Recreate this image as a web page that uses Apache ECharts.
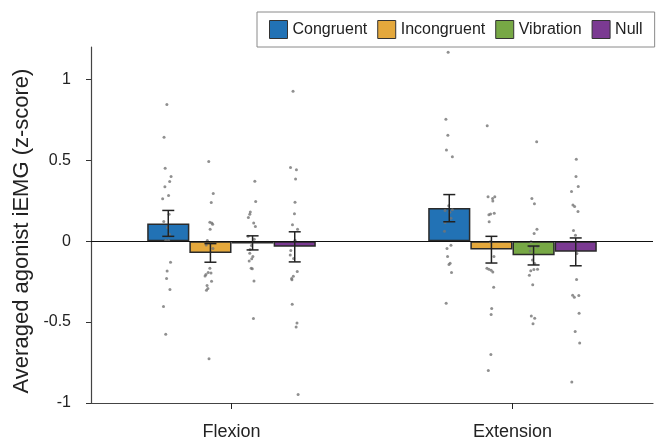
<!DOCTYPE html>
<html>
<head>
<meta charset="utf-8">
<script src="https://cdn.jsdelivr.net/npm/echarts@6.0.0/dist/echarts.min.js"></script>
<style>
  html, body { margin: 0; padding: 0; background: #fff; }
  #main { width: 656px; height: 441px; }
</style>
</head>
<body>
<div id="main"></div>
<script>
// categories and conditions
var categories = ['Flexion', 'Extension'];
var conditions = ['Congruent', 'Incongruent', 'Vibration', 'Null'];
var colors = ['#2272b5', '#e4a83c', '#77a845', '#7b3a92'];

// bar heights (mean), one value per category
var congruentMean = [0.11, 0.205];
var incongruentMean = [-0.073, -0.052];
var vibrationMean = [-0.015, -0.087];
var nullMean = [-0.035, -0.065];

// error bars [low, high] per category
var congruentErr = [[0.03, 0.19], [0.12, 0.288]];
var incongruentErr = [[-0.13, -0.015], [-0.135, 0.03]];
var vibrationErr = [[-0.054, 0.033], [-0.147, -0.03]];
var nullErr = [[-0.128, 0.058], [-0.152, 0.02]];

// single subjects: [jitter, value], jitter in category units
var congruentPts = [
    [[-0.005, 0.845], [-0.015, 0.643], [-0.011, 0.451], [0.010, 0.40], [0.005, 0.369], [-0.012, 0.336], [0.001, 0.283],
     [-0.020, 0.262], [0.003, 0.167], [-0.016, 0.122], [-0.003, 0.085], [0.004, 0.043], [-0.009, 0.004], [0.001, 0.004],
     [0.008, -0.13], [-0.004, -0.184], [-0.006, -0.231], [0.006, -0.299], [-0.017, -0.404], [-0.009, -0.575]],
    [[-0.004, 1.167], [-0.012, 0.753], [-0.005, 0.654], [-0.010, 0.563], [0.011, 0.522], [-0.002, 0.219], [-0.015, 0.19],
     [0.011, 0.194], [0.002, 0.179], [0.006, 0.142], [-0.015, 0.116], [-0.017, 0.062], [0.006, -0.025], [-0.008, -0.045],
     [-0.006, -0.095], [0.003, -0.136], [-0.001, -0.144], [0.008, -0.194], [-0.011, -0.384]]
];
var incongruentPts = [
    [[-0.006, 0.493], [0.010, 0.295], [0.003, 0.239], [-0.002, 0.117], [0.005, 0.113], [0.008, 0.105], [-0.001, 0.074],
     [-0.011, 0.004], [-0.015, -0.023], [0.009, -0.045], [-0.002, -0.167], [-0.008, -0.194], [0.002, -0.196], [-0.016, -0.206],
     [-0.019, -0.215], [0.004, -0.247], [-0.012, -0.274], [-0.009, -0.293], [-0.014, -0.303], [-0.005, -0.726]],
    [[-0.015, 0.714], [-0.012, 0.274], [0.004, 0.264], [0.012, 0.274], [0.005, 0.249], [-0.009, 0.164], [-0.003, 0.168],
     [0.010, 0.172], [-0.008, 0.12], [-0.004, -0.004], [0.009, -0.094], [-0.016, -0.168], [-0.009, -0.173], [-0.001, -0.179],
     [0.005, -0.19], [0.008, -0.284], [0.001, -0.416], [-0.001, -0.453], [-0.002, -0.70], [-0.011, -0.799]]
];
var vibrationPts = [
    [[0.008, 0.371], [0.011, 0.245], [-0.008, 0.181], [-0.010, 0.167], [-0.015, 0.146], [0.004, 0.113], [0.010, 0.091],
     [-0.016, 0.031], [0.006, 0.012], [-0.004, -0.027], [-0.009, -0.051], [-0.010, -0.074], [0.001, -0.095], [-0.003, -0.109],
     [-0.012, -0.122], [-0.005, -0.167], [-0.001, -0.171], [0.005, -0.246], [0.003, -0.478]],
    [[0.011, 0.614], [-0.006, 0.264], [0.003, 0.231], [0.012, 0.074], [0.002, 0.048], [-0.009, -0.004], [-0.012, -0.035],
     [0.014, -0.035], [-0.012, -0.06], [-0.004, -0.117], [0.004, -0.138], [0.014, -0.173], [0.001, -0.175], [-0.010, -0.183],
     [-0.015, -0.21], [-0.003, -0.27], [-0.008, -0.462], [0.004, -0.476], [-0.002, -0.511]]
];
var nullPts = [
    [[-0.006, 0.926], [-0.015, 0.456], [0.006, 0.441], [0.003, 0.385], [0.001, 0.241], [-0.001, 0.169], [-0.008, 0.101],
     [0.010, 0.074], [0.001, 0.006], [-0.014, -0.058], [-0.016, -0.085], [-0.004, -0.107], [0.009, -0.187], [-0.005, -0.216],
     [-0.011, -0.231], [-0.010, -0.239], [-0.009, -0.39], [0.008, -0.505], [0.005, -0.53], [0.012, -0.948]],
    [[0.002, 0.507], [0.001, 0.40], [0.009, 0.338], [-0.015, 0.307], [-0.010, 0.223], [-0.004, 0.215], [0.008, 0.184],
     [-0.008, 0.066], [-0.001, 0.037], [0.004, -0.076], [0.003, -0.237], [-0.011, -0.334], [-0.005, -0.346], [0.011, -0.336],
     [0.012, -0.445], [-0.002, -0.558], [0.014, -0.629], [-0.014, -0.87]]
];

var yTicks = [-1, -0.5, 0, 0.5, 1];

var means = [congruentMean, incongruentMean, vibrationMean, nullMean];
var errs = [congruentErr, incongruentErr, vibrationErr, nullErr];
var pts = [congruentPts, incongruentPts, vibrationPts, nullPts];

// bar centre offsets inside a category (barCategoryGap 40%, 4 bars)
var barOffset = [-0.225, -0.075, 0.075, 0.225];

var fontFam = '"Liberation Sans", Arial, Helvetica, sans-serif';

var chartDom = document.getElementById('main');
var myChart = echarts.init(chartDom, null, { renderer: 'canvas' });

var series = [];

conditions.forEach(function (name, s) {
    series.push({
        name: name,
        type: 'bar',
        data: means[s],
        barGap: 0,
        barCategoryGap: '40%',
        itemStyle: {
            color: colors[s],
            borderColor: '#2a2a2a',
            borderWidth: 1.5
        },
        z: 2,
        markLine: s === 0 ? {
            silent: true,
            symbol: ['none', 'none'],
            label: { show: false },
            lineStyle: { color: '#111', width: 1, type: 'solid' },
            data: [{ yAxis: 0 }]
        } : undefined
    });
});

// single subject dots
conditions.forEach(function (name, s) {
    var d = [];
    pts[s].forEach(function (list, c) {
        list.forEach(function (p) {
            d.push([c + barOffset[s] + p[0], p[1]]);
        });
    });
    series.push({
        name: name + ' subjects',
        type: 'scatter',
        xAxisIndex: 1,
        data: d,
        symbolSize: 3,
        itemStyle: { color: '#747474' },
        silent: true,
        z: 4
    });
});

// error bars
var errData = [];
conditions.forEach(function (name, s) {
    errs[s].forEach(function (e, c) {
        errData.push([c + barOffset[s], e[0], e[1]]);
    });
});
series.push({
    name: 'sem',
    type: 'custom',
    xAxisIndex: 1,
    data: errData,
    encode: { x: 0, y: [1, 2] },
    silent: true,
    z: 5,
    renderItem: function (params, api) {
        var x = api.value(0);
        var lo = api.coord([x, api.value(1)]);
        var hi = api.coord([x, api.value(2)]);
        var cap = 6;
        var st = { stroke: '#222', lineWidth: 1.5 };
        return {
            type: 'group',
            children: [
                { type: 'line', shape: { x1: lo[0], y1: lo[1], x2: hi[0], y2: hi[1] }, style: st },
                { type: 'line', shape: { x1: lo[0] - cap, y1: lo[1], x2: lo[0] + cap, y2: lo[1] }, style: st },
                { type: 'line', shape: { x1: hi[0] - cap, y1: hi[1], x2: hi[0] + cap, y2: hi[1] }, style: st }
            ]
        };
    }
});

var option = {
    animation: false,
    textStyle: { fontFamily: fontFam, color: '#222' },
    legend: {
        data: conditions,
        left: 257,
        top: 12,
        padding: [8, 12, 8, 12],
        itemGap: 10,
        itemWidth: 18,
        itemHeight: 18,
        icon: 'rect',
        borderColor: '#8a8a8a',
        borderWidth: 1,
        backgroundColor: '#fff',
        itemStyle: { borderColor: '#333', borderWidth: 1 },
        textStyle: { fontSize: 16, color: '#222', fontFamily: fontFam }
    },
    grid: {
        left: 91,
        right: 3,
        top: 47,
        bottom: 38
    },
    xAxis: [
        {
            type: 'category',
            data: categories,
            axisLine: { show: true, onZero: false, lineStyle: { color: '#444', width: 1.2 } },
            axisTick: { show: true, alignWithLabel: true, length: 6, lineStyle: { color: '#222' } },
            axisLabel: { fontSize: 18, color: '#222', margin: 20, fontFamily: fontFam },
            splitLine: { show: false }
        },
        {
            type: 'value',
            min: -0.5,
            max: 1.5,
            show: false,
            axisLine: { onZero: false }
        }
    ],
    yAxis: {
        type: 'value',
        min: -1,
        max: 1.2,
        interval: 0.5,
        name: 'Averaged agonist iEMG (z-score)',
        nameLocation: 'middle',
        nameGap: 52,
        nameTextStyle: { fontSize: 22, color: '#222', fontFamily: fontFam, padding: [0, 12, 0, 0] },
        axisLine: { show: true, onZero: false, lineStyle: { color: '#444', width: 1.2 } },
        axisTick: { show: true, length: 5, customValues: yTicks, lineStyle: { color: '#333' } },
        axisLabel: { fontSize: 16, color: '#222', margin: 20, customValues: yTicks, fontFamily: fontFam },
        splitLine: { show: false }
    },
    series: series
};

myChart.setOption(option);

window.addEventListener('resize', myChart.resize);
</script>
</body>
</html>
